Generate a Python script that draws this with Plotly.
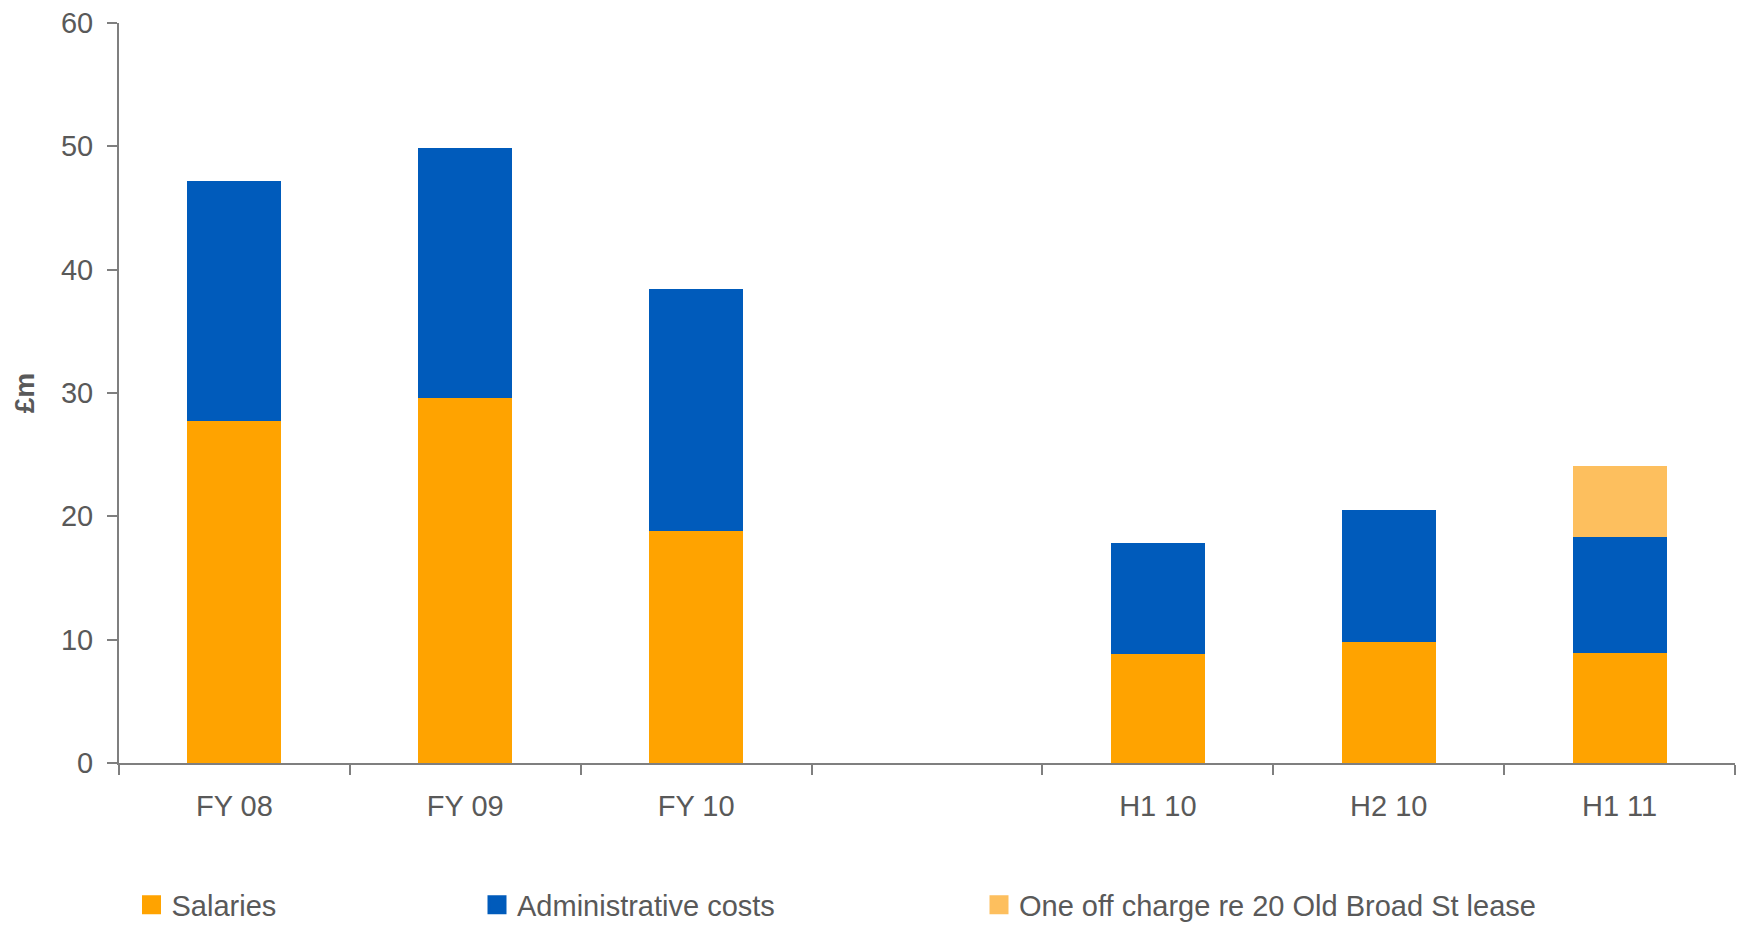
import plotly.graph_objects as go

# Reporting periods (the blank slot separates full-year from half-year figures)
periods = ["FY 08", "FY 09", "FY 10", " ", "H1 10", "H2 10", "H1 11"]

# Cost components, £m
salaries = [27.7, 29.6, 18.8, None, 8.8, 9.8, 8.9]
admin_costs = [19.5, 20.3, 19.6, None, 9.0, 10.7, 9.4]
one_off_charge = [None, None, None, None, None, None, 5.8]

series_names = ["Salaries", "Administrative costs", "One off charge re 20 Old Broad St lease"]
series_colors = ["#FFA300", "#005BBB", "#FDBF5E"]
y_ticks = [0, 10, 20, 30, 40, 50, 60]

W, H = 1738, 926
M_L, M_R, M_T, M_B = 119, 3, 23, 163
PLOT_W = W - M_L - M_R
PLOT_H = H - M_T - M_B

TEXT = "#595959"
AXIS = "#7f7f7f"
FONT = "Liberation Sans, Arial, sans-serif"

fig = go.Figure()

legend_ids = ["legend", "legend2", "legend3"]
for name, vals, color, lg in zip(series_names, [salaries, admin_costs, one_off_charge],
                                 series_colors, legend_ids):
    fig.add_trace(go.Bar(
        x=periods, y=vals, name=name,
        marker=dict(color=color, line=dict(width=0)),
        legendgroup=name, showlegend=False,
    ))
    # legend swatch entry tied to the bar series
    fig.add_trace(go.Scatter(
        x=[None], y=[None], mode="markers", name=name,
        marker=dict(symbol="square", size=16, color=color,
                    line=dict(color=color, width=3)),
        legendgroup=name, showlegend=True, legend=lg, hoverinfo="skip",
    ))

def px_to_paper_x(px):
    return (px - M_L) / PLOT_W

def px_to_paper_y(py):
    return (H - M_B - py) / PLOT_H

legend_y = px_to_paper_y(905)
legend_common = dict(orientation="h", yanchor="middle", xanchor="left",
                     y=legend_y, bgcolor="rgba(0,0,0,0)",
                     font=dict(family=FONT, size=29, color=TEXT),
                     itemsizing="trace")

fig.update_layout(
    width=W, height=H,
    margin=dict(l=M_L, r=M_R, t=M_T, b=M_B, pad=0, autoexpand=False),
    paper_bgcolor="white", plot_bgcolor="white",
    barmode="stack", bargap=0.593,
    font=dict(family=FONT, size=29, color=TEXT),
    legend=dict(x=px_to_paper_x(131.5), **legend_common),
    legend2=dict(x=px_to_paper_x(477), **legend_common),
    legend3=dict(x=px_to_paper_x(979), **legend_common),
    xaxis=dict(
        type="category", categoryorder="array", categoryarray=periods,
        showline=True, linecolor=AXIS, linewidth=2,
        ticks="outside", tickson="boundaries", ticklen=10,
        tickcolor=AXIS, tickwidth=2,
        showgrid=False, zeroline=False,
        tickfont=dict(family=FONT, size=29, color=TEXT),
        ticklabelstandoff=16,
    ),
    yaxis=dict(
        range=[0, 60], tickvals=y_ticks,
        showline=True, linecolor=AXIS, linewidth=2,
        ticks="outside", ticklen=10, tickcolor=AXIS, tickwidth=2,
        showgrid=False, zeroline=False,
        tickfont=dict(family=FONT, size=29, color=TEXT),
        ticklabelstandoff=8,
        title=dict(text="<b>£m</b>", standoff=18,
                   font=dict(family=FONT, size=28, color=TEXT)),
    ),
)

fig.write_html("out.html")
